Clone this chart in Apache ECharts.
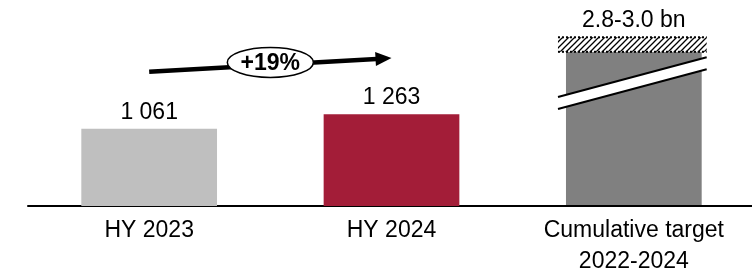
<!DOCTYPE html>
<html>
<head>
<meta charset="utf-8">
<script src="https://cdn.jsdelivr.net/npm/echarts@6/dist/echarts.min.js"></script>
<style>
  html, body { margin: 0; padding: 0; background: #fff; }
  #chart { width: 752px; height: 270px; }
</style>
</head>
<body>
<div id="chart"></div>
<script>
const categories = ['HY 2023', 'HY 2024', 'Cumulative target\n2022-2024'];
const actuals = [1061, 1263, null];
const targetRange = [2800, 3000];      // cumulative target 2022-2024
const targetLabel = '2.8-3.0 bn';
const growthLabel = '+19%';
// target bar sits on a broken axis: values above the break drop by breakGap
const breakGap = 680;
const breakAt = 1695;
// growth arrow goes from bar 1 to bar 2 at these heights
const arrowLevels = [1845, 2035];

const FONT = '"Liberation Sans", Arial, sans-serif';
const fmt = v => String(v).replace(/\B(?=(\d{3})+(?!\d))/g, ' ');

// hatch pattern for the target range
const hatch = document.createElement('canvas');
hatch.width = 6;
hatch.height = 6;
const g = hatch.getContext('2d');
g.fillStyle = '#fff';
g.fillRect(0, 0, 6, 6);
g.strokeStyle = '#000';
g.lineWidth = 1.3;
g.beginPath();
g.moveTo(0, 6); g.lineTo(6, 0);
g.moveTo(-1, 1); g.lineTo(1, -1);
g.moveTo(5, 7); g.lineTo(7, 5);
g.stroke();

function renderTarget(params, api) {
  const x = api.value(0);
  const lo = api.value(1) - breakGap;
  const hi = api.value(2) - breakGap;
  const base = api.coord([x, 0]);
  const pLo = api.coord([x, lo]);
  const pHi = api.coord([x, hi]);
  const bw = api.size([1, 0])[0] * 0.56;
  const left = base[0] - bw / 2;
  const right = base[0] + bw / 2;
  const x1 = left - 8, x2 = right + 5;
  const yb = api.coord([x, breakAt])[1];
  const slope = 40 / 149;
  const half = 6;
  const yAt = xx => yb - (xx - base[0]) * slope;
  return {
    type: 'group',
    children: [
      { type: 'rect', shape: { x: left, y: pLo[1], width: bw, height: base[1] - pLo[1] - 1 }, style: { fill: '#808080' } },
      { type: 'rect', shape: { x: x1, y: pHi[1], width: x2 - x1, height: pLo[1] - pHi[1] }, style: { fill: { image: hatch, repeat: 'repeat' } } },
      { type: 'line', shape: { x1: x1, y1: pHi[1], x2: x2, y2: pHi[1] }, style: { stroke: '#000', lineWidth: 2, lineDash: [2, 2] } },
      { type: 'line', shape: { x1: x1, y1: pLo[1], x2: x2, y2: pLo[1] }, style: { stroke: '#000', lineWidth: 2, lineDash: [2, 2] } },
      { type: 'polygon', shape: { points: [[x1, yAt(x1) - half], [x2, yAt(x2) - half], [x2, yAt(x2) + half], [x1, yAt(x1) + half]] }, style: { fill: '#fff' } },
      { type: 'line', shape: { x1: x1, y1: yAt(x1) - half, x2: x2, y2: yAt(x2) - half }, style: { stroke: '#000', lineWidth: 2 } },
      { type: 'line', shape: { x1: x1, y1: yAt(x1) + half, x2: x2, y2: yAt(x2) + half }, style: { stroke: '#000', lineWidth: 2 } },
      { type: 'text', x: base[0], y: pHi[1] - 5, style: { text: targetLabel, font: '23px ' + FONT, fill: '#000', align: 'center', verticalAlign: 'bottom' } }
    ]
  };
}

function renderArrow(params, api) {
  const a = api.coord([api.value(0), api.value(1)]);
  const b = api.coord([api.value(2), api.value(3)]);
  const ang = Math.atan2(b[1] - a[1], b[0] - a[0]);
  const headLen = 16, headW = 7;
  const hb = [b[0] - headLen * Math.cos(ang), b[1] - headLen * Math.sin(ang)];
  const nx = -Math.sin(ang), ny = Math.cos(ang);
  const mid = [(a[0] + b[0]) / 2, (a[1] + b[1]) / 2 - 2.5];
  return {
    type: 'group',
    children: [
      { type: 'line', shape: { x1: a[0], y1: a[1], x2: hb[0] + 1, y2: hb[1] }, style: { stroke: '#000', lineWidth: 4.5 } },
      { type: 'polygon', shape: { points: [b, [hb[0] + nx * headW, hb[1] + ny * headW], [hb[0] - nx * headW, hb[1] - ny * headW]] }, style: { fill: '#000' } },
      { type: 'ellipse', shape: { cx: mid[0], cy: mid[1], rx: 43, ry: 15 }, style: { fill: '#fff', stroke: '#000', lineWidth: 1.5 } },
      { type: 'text', x: mid[0], y: mid[1] + 1, style: { text: growthLabel, font: 'bold 23px ' + FONT, fill: '#000', align: 'center', verticalAlign: 'middle' } }
    ]
  };
}

const chart = echarts.init(document.getElementById('chart'));

const option = {
  animation: false,
  textStyle: { fontFamily: FONT },
  grid: { left: 28, width: 727, top: 6, bottom: 64, outerBoundsMode: 'none' },
  xAxis: {
    type: 'category',
    data: categories,
    axisLine: { lineStyle: { color: '#000', width: 2 } },
    axisTick: { show: false },
    axisLabel: { color: '#000', fontSize: 23, lineHeight: 31, margin: 9, interval: 0 }
  },
  yAxis: {
    type: 'value',
    min: 0,
    max: 2750,
    show: false,
    splitLine: { show: false }
  },
  series: [
    {
      type: 'bar',
      data: actuals.map((v, i) => ({
        value: v,
        itemStyle: { color: i === 0 ? '#bfbfbf' : '#a31d38' }
      })),
      barWidth: '56%',
      label: {
        show: true,
        position: 'top',
        distance: 5,
        color: '#000',
        fontSize: 23,
        formatter: p => fmt(p.value)
      }
    },
    {
      type: 'custom',
      renderItem: renderTarget,
      data: [[2, targetRange[0], targetRange[1]]],
      z: 3
    },
    {
      type: 'custom',
      renderItem: renderArrow,
      data: [[0, arrowLevels[0], 1, arrowLevels[1]]],
      z: 4
    }
  ]
};

chart.setOption(option);
</script>
</body>
</html>
